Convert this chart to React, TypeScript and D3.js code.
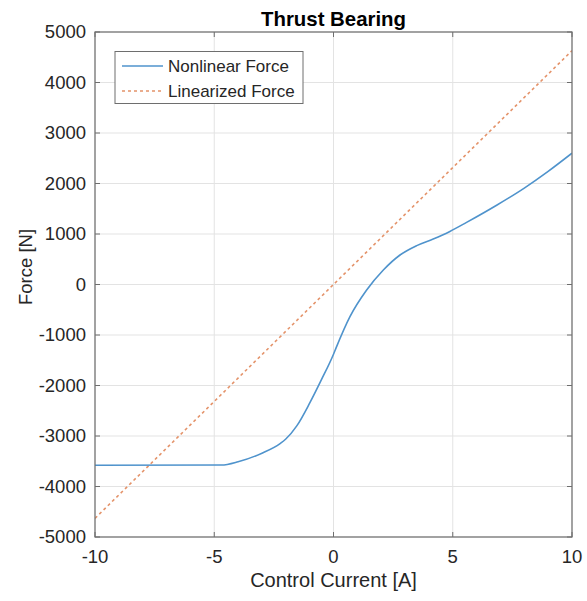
import React from "react";
import * as d3 from "d3";

// control current [A] and nonlinear force [N]
const currentNL = [-10, -4.7, -4, -3, -2.24, -2, -1.54, -1, -0.5, 0, 0.1, 0.69, 1.39, 2.09, 2.79, 3.49, 4.18, 4.88, 5.58, 6.84, 8, 9, 10];
const forceNL = [-3580, -3575, -3510, -3340, -3150, -3060, -2800, -2350, -1880, -1380, -1264, -637, -109, 287, 584, 770, 900, 1050, 1230, 1570, 1910, 2240, 2600];

// linearized force: straight line through the ends
const currentLin = [-10, 10];
const forceLin = [-4630, 4630];

const xTicks = [-10, -5, 0, 5, 10];
const yTicks = [-5000, -4000, -3000, -2000, -1000, 0, 1000, 2000, 3000, 4000, 5000];

const W = 587;
const H = 601;
const margin = { left: 95, top: 32, right: 15, bottom: 64 };

const FONT = "'Liberation Sans', Arial, Helvetica, sans-serif";
const TEXT = "#262626";
const BLUE = "#4f93cc";
const ORANGE = "#e4936a";

export default function App() {
  const x = d3.scaleLinear().domain([-10, 10]).range([margin.left, W - margin.right]);
  const y = d3.scaleLinear().domain([-5000, 5000]).range([H - margin.bottom, margin.top]);

  const x0 = x.range()[0], x1 = x.range()[1];
  const y0 = y.range()[1], y1 = y.range()[0];

  const nlPath = d3
    .line<[number, number]>()
    .x((d) => x(d[0]))
    .y((d) => y(d[1]))
    .curve(d3.curveMonotoneX)(currentNL.map((c, i) => [c, forceNL[i]]));
  const linPath = d3
    .line<[number, number]>()
    .x((d) => x(d[0]))
    .y((d) => y(d[1]))(currentLin.map((c, i) => [c, forceLin[i]]));

  const tick = 5;

  return (
    <svg
      width={W}
      height={H}
      style={{ position: "absolute", left: 0, top: 0, background: "#fff" }}
      fontFamily={FONT}
    >
      <defs>
        <clipPath id="plot">
          <rect x={x0} y={y0} width={x1 - x0} height={y1 - y0} />
        </clipPath>
      </defs>

      {/* grid */}
      {xTicks.map((t) => (
        <line key={"gx" + t} x1={x(t)} x2={x(t)} y1={y0} y2={y1} stroke="#e3e3e3" strokeWidth={1} />
      ))}
      {yTicks.map((t) => (
        <line key={"gy" + t} x1={x0} x2={x1} y1={y(t)} y2={y(t)} stroke="#e3e3e3" strokeWidth={1} />
      ))}

      {/* series */}
      <g clipPath="url(#plot)">
        <path d={linPath || ""} fill="none" stroke={ORANGE} strokeWidth={1.6} strokeDasharray="3,3" />
        <path d={nlPath || ""} fill="none" stroke={BLUE} strokeWidth={1.6} />
      </g>

      {/* box + ticks on every side */}
      <rect x={x0} y={y0} width={x1 - x0} height={y1 - y0} fill="none" stroke="#6e6e6e" strokeWidth={1.2} />
      {xTicks.map((t) => (
        <g key={"tx" + t} stroke="#6e6e6e">
          <line x1={x(t)} x2={x(t)} y1={y1} y2={y1 - tick} />
          <line x1={x(t)} x2={x(t)} y1={y0} y2={y0 + tick} />
        </g>
      ))}
      {yTicks.map((t) => (
        <g key={"ty" + t} stroke="#6e6e6e">
          <line x1={x0} x2={x0 + tick} y1={y(t)} y2={y(t)} />
          <line x1={x1} x2={x1 - tick} y1={y(t)} y2={y(t)} />
        </g>
      ))}

      {/* tick labels */}
      {xTicks.map((t) => (
        <text key={"lx" + t} x={x(t)} y={563} textAnchor="middle" fontSize={18.5} fill={TEXT}>
          {t}
        </text>
      ))}
      {yTicks.map((t) => (
        <text key={"ly" + t} x={86} y={y(t)} dy="0.35em" textAnchor="end" fontSize={18.5} fill={TEXT}>
          {t}
        </text>
      ))}

      {/* title and axis labels */}
      <text x={(x0 + x1) / 2} y={26} textAnchor="middle" fontSize={20.4} fontWeight="bold" fill="#000">
        Thrust Bearing
      </text>
      <text x={(x0 + x1) / 2} y={587} textAnchor="middle" fontSize={20} fill={TEXT}>
        Control Current [A]
      </text>
      <text
        transform={`translate(32,267) rotate(-90)`}
        textAnchor="middle"
        fontSize={18.5}
        fill={TEXT}
      >
        Force [N]
      </text>

      {/* legend */}
      <g>
        <rect x={115} y={51.5} width={188} height={52} fill="#fff" stroke="#6e6e6e" strokeWidth={1} />
        <line x1={122} x2={163} y1={66} y2={66} stroke={BLUE} strokeWidth={1.6} />
        <line x1={122} x2={163} y1={91} y2={91} stroke={ORANGE} strokeWidth={1.6} strokeDasharray="3,3" />
        <text x={168} y={66} dy="0.35em" fontSize={17} fill={TEXT}>
          Nonlinear Force
        </text>
        <text x={168} y={91} dy="0.35em" fontSize={17} fill={TEXT}>
          Linearized Force
        </text>
      </g>
    </svg>
  );
}
